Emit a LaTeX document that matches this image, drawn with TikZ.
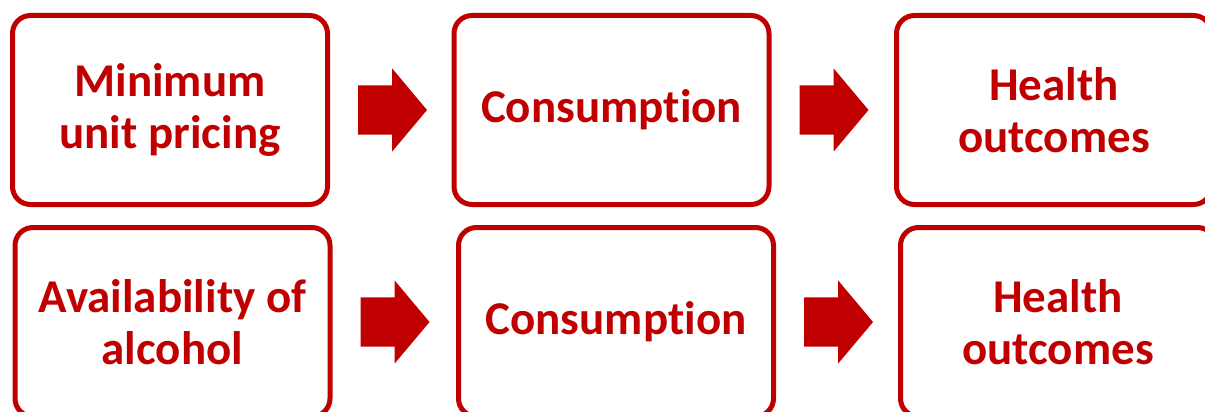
\documentclass[tikz,border=0pt]{standalone}
\usepackage{fontspec}
\setmainfont[Ligatures=NoCommon]{Carlito}
\usepackage{tikz}
\usetikzlibrary{positioning, shapes.arrows}
\usepackage{xcolor}
\definecolor{darkred}{HTML}{C00000}

\begin{document}
\begin{tikzpicture}[x=1pt, y=-1pt,
                  box/.style={draw=darkred, line width=5pt, rounded corners=18pt,
                              minimum width=315pt, minimum height=189pt, inner sep=0pt,
                              text=darkred, align=center,
                              font=\fontsize{47}{52}\selectfont\bfseries},
                  blockarrow/.style={single arrow, fill=darkred, draw=none, inner xsep=0pt,
                              inner ysep=24.5pt, outer sep=0pt, minimum height=69pt,
                              single arrow head extend=17pt, single arrow tip angle=100},
            ]
            \useasboundingbox (0,0) rectangle (1205,412);
            \clip (0,0) rectangle (1205,412);

            % ---- Top row ----
            \node[box] (mup)   at (170, 110)    {Minimum\\unit pricing};
            \node[box] (cons1) at (611.5, 110)  {Consumption};
            \node[box] (hlth1) at (1054, 110)   {Health\\outcomes};

            % ---- Bottom row ----
            \node[box] (avail) at (172.5, 322)  {Availability of\\alcohol};
            \node[box] (cons2) at (616, 322)    {Consumption};
            \node[box] (hlth2) at (1058, 322)   {Health\\outcomes};

            % ---- Block arrows ----
            \node[blockarrow, right=28pt of mup]   (a1) {};
            \node[blockarrow, right=28pt of cons1] (a2) {};
            \node[blockarrow, right=28pt of avail] (a3) {};
            \node[blockarrow, right=28pt of cons2] (a4) {};

      \end{tikzpicture}
\end{document}
